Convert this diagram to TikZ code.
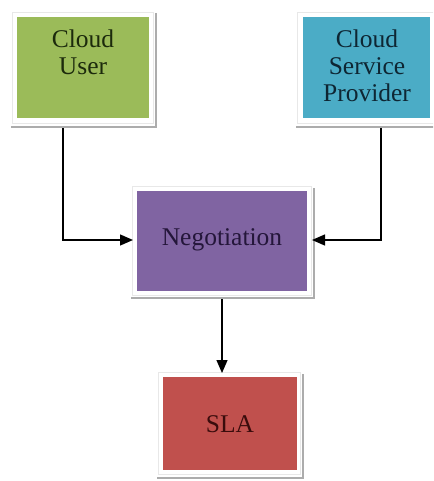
\documentclass[tikz,border=0pt]{standalone}
\usepackage{fontspec}
\setmainfont{Liberation Serif}
\usetikzlibrary{arrows.meta,positioning}

\definecolor{userfill}{HTML}{9BBB59}
\definecolor{provfill}{HTML}{4BACC6}
\definecolor{negofill}{HTML}{8064A2}
\definecolor{slafill}{HTML}{C0504D}
\definecolor{usertext}{HTML}{1C2A0C}
\definecolor{provtext}{HTML}{0E2633}
\definecolor{negotext}{HTML}{24163A}
\definecolor{slatext}{HTML}{3A0C0C}

\tikzset{
  frame/.style={draw=gray!18, fill=white, line width=0.8pt},
  shade line/.style={draw=gray!65, line width=2.2pt},
  box/.style={draw=none, inner sep=0pt},
  label text/.style={font=\fontsize{25.5}{27}\selectfont, align=center, inner sep=0pt},
  link/.style={draw=black, line width=1.3pt},
  linkarrow/.style={link, -{Triangle[length=13pt,width=11pt]}},
}

\begin{document}
\begin{tikzpicture}[x=1pt,y=-1pt]
\useasboundingbox (0,0) rectangle (433,481);
\clip (0,0) rectangle (433,481);

% --- Cloud User ---
\draw[frame] (12,12) rectangle (153,123);
\draw[shade line] (11,127) -- (157,127);
\draw[shade line] (156,13) -- (156,127);
\node[box, fill=userfill, minimum width=132pt, minimum height=101pt] (user) at (83,67.5) {};
\node[label text, text=usertext, anchor=north] (usertxt) at (83,30) {Cloud\\User};

% --- Cloud Service Provider ---
\draw[frame] (297,12) rectangle (440,123);
\draw[shade line] (296,127) -- (440,127);
\node[box, fill=provfill, minimum width=127pt, minimum height=101pt] (prov) at (366.5,67.5) {};
\node[label text, text=provtext, anchor=north] (provtxt) at (367,30) {Cloud\\Service\\Provider};

% --- Negotiation ---
\draw[frame] (132,186) rectangle (311,295);
\draw[shade line] (131,298) -- (315,298);
\draw[shade line] (314,188) -- (314,298);
\node[box, fill=negofill, minimum width=170pt, minimum height=100pt] (nego) at (222,241) {};
\node[label text, text=negotext] (negotxt) at (222,240) {Negotiation};

% --- SLA ---
\draw[frame] (158,372) rectangle (300,474);
\draw[shade line] (157,478) -- (304,478);
\draw[shade line] (303,374) -- (303,478);
\node[box, fill=slafill, minimum width=134pt, minimum height=93pt] (sla) at (230,423.5) {};
\node[label text, text=slatext] (slatxt) at (230,424) {SLA};

% --- connectors ---
\coordinate (userfoot) at (63,128);
\coordinate (provfoot) at (381,128);
\coordinate (negoleft) at (133,240);
\coordinate (negoright) at (312,240);
\coordinate (negofoot) at (222,299);
\coordinate (slatop) at (222,373);

\draw[linkarrow] (userfoot) |- (negoleft);
\draw[linkarrow] (provfoot) |- (negoright);
\draw[linkarrow] (negofoot) -- (slatop);
\end{tikzpicture}
\end{document}
